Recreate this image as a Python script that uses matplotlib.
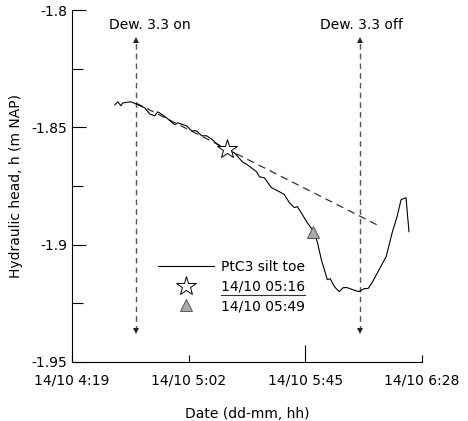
#hydraulic head at PtC3 silt toe during dewatering test

import matplotlib
matplotlib.use("Agg")
import matplotlib.pyplot as plt
from matplotlib.lines import Line2D

plt.rcParams['font.family'] = 'DejaVu Sans'

#time in minutes after 00:00 on 14/10, head in m NAP
t = [274.8, 275.9, 277.0, 277.7, 280.7, 283.3, 285.8, 287.7, 289.5, 290.6,
     292.4, 293.9, 296.9, 298.0, 301.3, 303.1, 304.9, 306.8, 308.6, 310.8,
     312.7, 314.5, 315.6, 318.9, 321.8, 323.7, 327.0, 328.1, 329.9, 332.5,
     335.4, 337.3, 339.1, 340.9, 342.1, 343.9, 345.7, 347.6, 349.4, 350.9,
     352.0, 353.1, 354.2, 355.7, 357.5, 359.0, 360.4, 362.3, 364.8, 366.7,
     368.1, 369.6, 372.2, 374.8, 377.0, 378.8, 380.3, 382.1, 383.2]
h = [-1.8404, -1.8391, -1.8408, -1.8396, -1.8391, -1.8404, -1.8417, -1.8443, -1.8451, -1.8434,
     -1.8447, -1.8460, -1.8489, -1.8481, -1.8494, -1.8515, -1.8515, -1.8536, -1.8536, -1.8553,
     -1.8574, -1.8587, -1.8591, -1.8609, -1.8647, -1.8660, -1.8689, -1.8711, -1.8715, -1.8757,
     -1.8774, -1.8787, -1.8821, -1.8842, -1.8838, -1.8872, -1.8906, -1.8936, -1.8987, -1.9064,
     -1.9106, -1.9149, -1.9145, -1.9179, -1.9200, -1.9183, -1.9183, -1.9191, -1.9200, -1.9187,
     -1.9187, -1.9162, -1.9106, -1.9051, -1.8949, -1.8881, -1.8808, -1.8800, -1.8945]

#extrapolated trend
trend_t = [282.5, 372.2]
trend_h = [-1.8396, -1.8920]

#marked moments
star_t, star_h = 316, -1.8591
tri_t, tri_h = 348, -1.8945

#dewatering on / off
dew_t = [282.5, 365.2]
dew_text_t = [287.5, 365.6]
dew_text = ["Dew. 3.3 on", "Dew. 3.3 off"]
arrow_top = -1.8128
arrow_bot = -1.9370

xticks = [259, 302, 345, 388]
xlabels = ["14/10 4:19", "14/10 5:02", "14/10 5:45", "14/10 6:28"]
yticks = [-1.95, -1.9, -1.85, -1.8]
ylabels = ["-1.95", "-1.9", "-1.85", "-1.8"]

fig = plt.figure(figsize=(4.68, 4.21), dpi=100)
ax = fig.add_axes([72/468, 1-362/421, 350/468, 352/421])

#dew arrows
for xt, tt, txt in zip(dew_t, dew_text_t, dew_text):
    ax.plot([xt, xt], [arrow_bot, arrow_top], '--', color='#555555', lw=1.0, dashes=(4, 3))
    ax.plot([xt], [arrow_top], marker='^', color='#222222', ms=5, mew=0)
    ax.plot([xt], [arrow_bot], marker='v', color='#222222', ms=5, mew=0)
    ax.text(tt, -1.8064, txt, ha='center', va='center', fontsize=10)

#data
ax.plot(trend_t, trend_h, '--', color='#333333', lw=0.9, dashes=(6, 4))
ax.plot(t, h, '-', color='black', lw=0.8)
ax.plot([star_t], [star_h], marker='*', ms=15, mfc='white', mec='black', mew=0.7, ls='none')
ax.plot([tri_t], [tri_h], marker='^', ms=9, mfc='#aaaaaa', mec='#555555', mew=0.7, ls='none')

#legend
handles = [Line2D([], [], color='black', lw=0.8),
           Line2D([], [], marker='*', ms=15, mfc='white', mec='black', mew=0.7, ls='none'),
           Line2D([], [], marker='^', ms=9, mfc='#aaaaaa', mec='#555555', mew=0.7, ls='none')]
labels = ["PtC3 silt toe", "14/10 05:16", "14/10 05:49"]
leg = ax.legend(handles, labels, loc='upper left', bbox_to_anchor=(0.246, 0.29), frameon=False,
                borderpad=0, borderaxespad=0, handlelength=4, handletextpad=0.5,
                labelspacing=0.4, fontsize=10)

#axes
ax.set_xlim(259, 388)
ax.set_ylim(-1.95, -1.8)
ax.spines['top'].set_visible(False)
ax.spines['right'].set_visible(False)
ax.set_xticks(xticks, xlabels, fontsize=10)
ax.set_yticks(yticks, ylabels, fontsize=10)
ax.set_yticks([-1.925, -1.875, -1.825], minor=True)
ax.tick_params(axis='y', which='major', direction='in', length=10, width=0.8)
ax.tick_params(axis='y', which='minor', direction='in', length=8, width=0.8)
ax.tick_params(axis='x', direction='in', length=5, width=0.8, pad=8)
ax.xaxis.get_major_ticks()[2].tick1line.set_markersize(12)

ax.set_xlabel("Date (dd-mm, hh)", fontsize=10, labelpad=14)
ax.set_ylabel("Hydraulic head, h (m NAP)", fontsize=10, labelpad=6)

#underline the second legend entry
fig.canvas.draw()
bb = leg.get_texts()[1].get_window_extent().transformed(fig.transFigure.inverted())
uy = bb.y0 - 1.5/421
fig.add_artist(Line2D([bb.x0, bb.x1], [uy, uy], color='#333333', lw=0.8, transform=fig.transFigure))

fig.savefig("out.png", dpi=100)
